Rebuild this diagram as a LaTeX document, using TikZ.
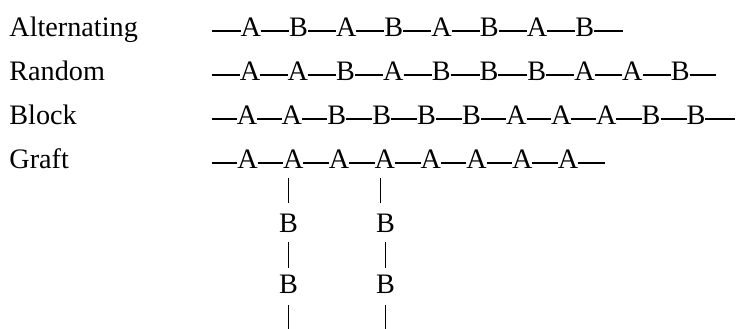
\documentclass[tikz,border=0pt]{standalone}
\usepackage{fontspec}
\setmainfont{Liberation Serif}

\begin{document}
\begin{tikzpicture}[
  x=0.5pt, y=-0.5pt,
  font=\fontsize{14.1}{17}\selectfont,
  lbl/.style={anchor=base west, inner sep=0pt},
  monomer/.style={anchor=base, inner sep=0pt, outer sep=0pt,
                  text height=.5em, text depth=0pt},
  bond/.style={line width=.65pt},
  stem/.style={line width=.8pt}
]
\useasboundingbox (0,0) rectangle (736,328);
\coordinate (chainstart) at (211.7,0);

% the four chains: label, baseline, first x, spacing, end x, count, sequence
\foreach \row/\txt/\y/\xa/\sp/\xe/\n/\seq in {
  alt/Alternating/36/250.8/47.7/623.3/8/{A,B,A,B,A,B,A,B},
  rnd/Random/80/250/47.8/716.5/10/{A,A,B,A,B,B,B,A,A,B},
  blk/Block/124/247/44.9/735/11/{A,A,B,B,B,B,A,A,A,B,B},
  grf/Graft/168/247.5/45.8/604.7/8/{A,A,A,A,A,A,A,A}}{
  \node[lbl] (\row) at (9,\y) {\txt};
  \foreach \m [count=\i, remember=\i as \j (initially 0)] in \seq {
    \node[monomer] (\row-\i) at (\xa+\sp*\i-\sp,\y) {\m};
    \ifnum\i>1 \draw[bond] (\row-\j.east) -- (\row-\i.west); \fi
  }
  \coordinate (\row-end) at (\xe,0);
  \draw[bond] (chainstart |- \row-1.west) -- (\row-1.west);
  \draw[bond] (\row-\n.east) -- (\row-\n.east -| \row-end);
}

% grafted side chains
\node[monomer] (br1-1) at (288.5,232) {B};
\node[monomer] (br1-2) at (288.5,293) {B};
\node[monomer] (br2-1) at (385.5,232) {B};
\node[monomer] (br2-2) at (385.5,293) {B};
\coordinate (stem2) at (380.5,0);
\coordinate (bottom) at (0,334);

\draw[stem, shorten <=5pt, shorten >=14.5pt] (br1-1 |- grf-2.base) -- (br1-1.base);
\draw[stem, shorten <=5pt, shorten >=12.5pt] (br1-1.base) -- (br1-2.base);
\draw[stem, shorten <=6pt] (br1-2.base) -- (br1-2 |- bottom);
\draw[stem, shorten <=5pt, shorten >=14.5pt] (stem2 |- grf-4.base) -- (stem2 |- br2-1.base);
\draw[stem, shorten <=5pt, shorten >=12.5pt] (br2-1.base) -- (br2-2.base);
\draw[stem, shorten <=6pt] (br2-2.base) -- (br2-2 |- bottom);
\end{tikzpicture}
\end{document}
